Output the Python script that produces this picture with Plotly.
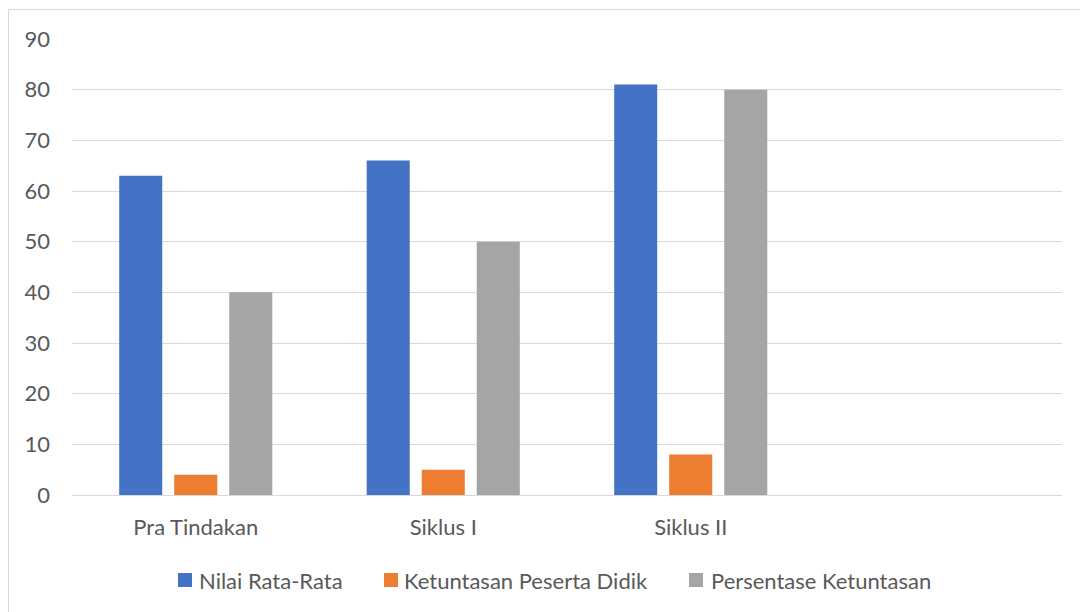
import plotly.graph_objects as go

# Categories and series values
categories = ["Pra Tindakan", "Siklus I", "Siklus II"]
series_names = ["Nilai Rata-Rata", "Ketuntasan Peserta Didik", "Persentase Ketuntasan"]
nilai_rata_rata = [63, 66, 81]
ketuntasan_peserta_didik = [4, 5, 8]
persentase_ketuntasan = [40, 50, 80]
y_ticks = [0, 10, 20, 30, 40, 50, 60, 70, 80, 90]

colors = ["#4472c4", "#ed7d31", "#a5a5a5"]
FONT = "Lato"
TEXT_COLOR = "#595959"
GRID_COLOR = "#d9d9d9"

fig = go.Figure()
for name, vals, col in zip(series_names,
                           [nilai_rata_rata, ketuntasan_peserta_didik, persentase_ketuntasan],
                           colors):
    fig.add_trace(go.Bar(name=name, x=categories, y=vals,
                         marker=dict(color=col, line=dict(width=0))))

L, R, T, B = 72, 18, 39, 117
W, H = 1080, 612
pw, ph = W - L - R, H - T - B


def px_x(x):
    return (x - L) / pw


def px_y(y):
    return (H - B - y) / ph


# Legend drawn along the bottom: coloured squares followed by labels
legend_marker_x = [178, 384, 689]
legend_text_x = [197, 402, 709]
legend_y = 580
shapes = [
    dict(type="rect", xref="paper", yref="paper",
         x0=px_x(8.5), x1=px_x(W + 5), y0=px_y(H + 5), y1=px_y(9.5),
         line=dict(color=GRID_COLOR, width=1), fillcolor="rgba(0,0,0,0)", layer="below")
]
annotations = []
for mx, tx, col, name in zip(legend_marker_x, legend_text_x, colors, series_names):
    shapes.append(dict(type="rect", xref="paper", yref="paper",
                       x0=px_x(mx), x1=px_x(mx + 14),
                       y0=px_y(legend_y + 7), y1=px_y(legend_y - 7),
                       line=dict(width=0), fillcolor=col))
    annotations.append(dict(xref="paper", yref="paper", x=px_x(tx), y=px_y(legend_y),
                            xanchor="left", yanchor="middle", showarrow=False, text=name,
                            font=dict(family=FONT, size=22, color=TEXT_COLOR)))

fig.update_layout(
    width=W, height=H,
    margin=dict(l=L, r=R, t=T, b=B),
    paper_bgcolor="white",
    plot_bgcolor="white",
    barmode="group",
    bargap=0.333,
    bargroupgap=0.218,
    font=dict(family=FONT, size=22, color=TEXT_COLOR),
    showlegend=False,
    xaxis=dict(
        type="category",
        range=[-0.5, 3.5],
        showgrid=False,
        showline=False,
        zeroline=False,
        ticks="",
        ticklabelstandoff=17,
        tickfont=dict(family=FONT, size=22, color=TEXT_COLOR),
    ),
    yaxis=dict(
        range=[0, 90],
        tickvals=y_ticks,
        showgrid=True,
        gridcolor=GRID_COLOR,
        gridwidth=1,
        zeroline=True,
        zerolinecolor=GRID_COLOR,
        zerolinewidth=1,
        showline=False,
        ticks="",
        ticklabelstandoff=21,
        tickfont=dict(family=FONT, size=22, color=TEXT_COLOR),
    ),
    shapes=shapes,
    annotations=annotations,
)

fig.write_html("out.html")
